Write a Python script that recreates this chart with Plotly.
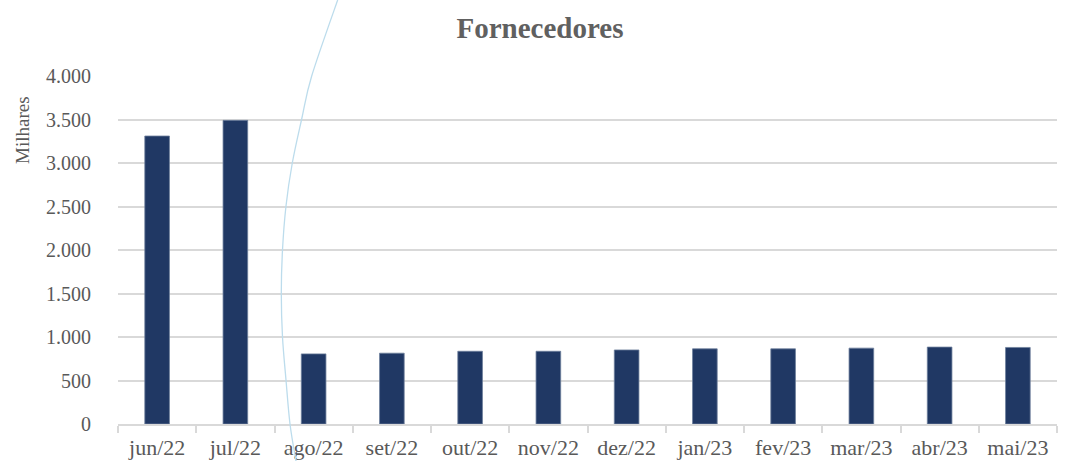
import plotly.graph_objects as go

categories = ["jun/22", "jul/22", "ago/22", "set/22", "out/22", "nov/22",
              "dez/22", "jan/23", "fev/23", "mar/23", "abr/23", "mai/23"]
values = [3310, 3490, 806, 814, 836, 836, 851, 864, 864, 872, 884, 880]
y_ticks = [0, 500, 1000, 1500, 2000, 2500, 3000, 3500, 4000]
y_tick_text = ["0", "500", "1.000", "1.500", "2.000", "2.500", "3.000", "3.500", "4.000"]

W, H = 1073, 461
L, R, T, B = 118, 1057, 76, 424

FONT = "Liberation Serif"
GRAY = "#595959"

fig = go.Figure()
fig.add_trace(go.Bar(
    x=categories, y=values,
    marker=dict(color="#203864", line=dict(color="#6d7f9c", width=0.8)),
    width=0.315,
    hoverinfo="x+y",
))

# decorative light-blue arc (pixel coords)
arc_px = [(340, -5), (337.7, 0), (311.7, 76), (301.7, 119), (292.3, 163), (286, 206),
          (282.5, 250), (281.3, 293), (282.5, 337), (286, 380), (290, 424), (296, 461), (298, 470)]

def to_paper(p):
    return ((p[0] - L) / (R - L), (B - p[1]) / (B - T))

pts = [to_paper(p) for p in arc_px]
path = f"M {pts[1][0]:.5f},{pts[1][1]:.5f}"
for i in range(1, len(pts) - 2):
    p0, p1, p2, p3 = pts[i - 1], pts[i], pts[i + 1], pts[i + 2]
    c1 = (p1[0] + (p2[0] - p0[0]) / 6, p1[1] + (p2[1] - p0[1]) / 6)
    c2 = (p2[0] - (p3[0] - p1[0]) / 6, p2[1] - (p3[1] - p1[1]) / 6)
    path += f" C {c1[0]:.5f},{c1[1]:.5f} {c2[0]:.5f},{c2[1]:.5f} {p2[0]:.5f},{p2[1]:.5f}"

fig.add_shape(type="path", path=path, xref="paper", yref="paper",
              line=dict(color="#bcdcec", width=1.3), layer="above")

fig.add_annotation(text="Milhares", textangle=-90, showarrow=False,
                   xref="paper", yref="paper",
                   x=(22 - L) / (R - L), y=(B - 130) / (B - T),
                   xanchor="center", yanchor="middle",
                   font=dict(family=FONT, size=19, color=GRAY))

fig.update_layout(
    width=W, height=H,
    margin=dict(l=L, r=W - R, t=T, b=H - B, pad=0, autoexpand=False),
    paper_bgcolor="white", plot_bgcolor="white",
    showlegend=False,
    title=dict(text="<b>Fornecedores</b>", x=540 / W, xanchor="center",
               y=1 - 28 / H, yanchor="middle",
               font=dict(family=FONT, size=29, color="#606060")),
    font=dict(family=FONT, color=GRAY),
    bargap=0.685,
)
fig.update_yaxes(
    range=[0, 4000], tickvals=y_ticks, ticktext=y_tick_text,
    showgrid=True, gridcolor="#d9d9d9", gridwidth=1.5,
    zeroline=False, showline=False, ticks="",
    tickfont=dict(family=FONT, size=20, color=GRAY),
    ticklabelstandoff=26, automargin=False,
)
fig.update_xaxes(
    type="category", showgrid=False,
    showline=True, linecolor="#d9d9d9", linewidth=1.5,
    ticks="outside", tickson="boundaries", ticklen=7, tickcolor="#d9d9d9", tickwidth=1.5,
    tickfont=dict(family=FONT, size=22, color=GRAY),
    tickangle=0, automargin=False, ticklabelstandoff=3,
)

fig.write_html("out.html",
               config={"displayModeBar": False},
               post_script="document.body.style.margin='0';document.body.style.overflow='hidden';")
